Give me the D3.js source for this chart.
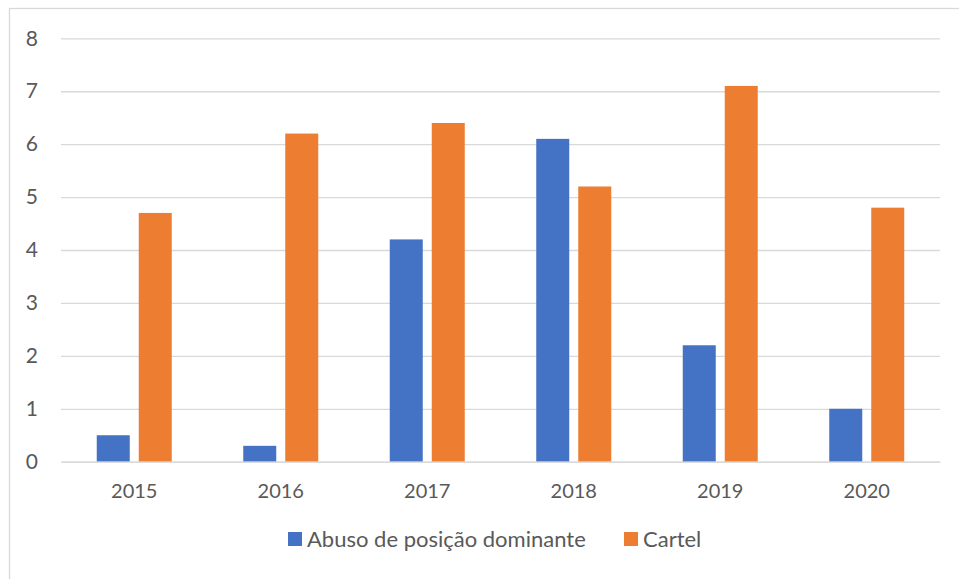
<!DOCTYPE html>
<html><head><meta charset="utf-8">
<script src="https://cdn.jsdelivr.net/npm/d3@7"></script>
<style>html,body{margin:0;padding:0;background:#fff;}svg{display:block;}</style>
</head><body><svg id="c" width="959" height="579"></svg>
<script>
const categories = ["2015","2016","2017","2018","2019","2020"];
const seriesNames = ["Abuso de posição dominante","Cartel"];
const abuso = [0.5,0.3,4.2,6.1,2.2,1.0];
const cartel = [4.7,6.2,6.4,5.2,7.1,4.8];
const yTicks = [0,1,2,3,4,5,6,7,8];
const colors = ["#4472C4","#ED7D31"];

(function(){
const svg = d3.select("#c");
const font = "Lato, 'Open Sans', sans-serif";
svg.append("rect").attr("x",9.5).attr("y",8.5).attr("width",1000).attr("height",600)
  .attr("fill","#fff").attr("stroke","#D9D9D9").attr("stroke-width",1.3);

const pLeft=61, pRight=940, pTop=38.3, pBottom=461.7;
const x0 = d3.scaleBand().domain(categories).range([pLeft,pRight]).padding(0);
const bw = x0.bandwidth();
const gw = 75;
const x1 = d3.scaleBand().domain(seriesNames).range([(bw-gw)/2,(bw+gw)/2]).paddingInner(0.2143).paddingOuter(0);
const y = d3.scaleLinear().domain([0,8]).range([pBottom,pTop]);

const yAxis = d3.axisLeft(y).tickValues(yTicks).tickSize(-(pRight-pLeft)).tickPadding(23).tickFormat(d3.format("d"));
const gy = svg.append("g").attr("transform",`translate(${pLeft},0)`).call(yAxis);
gy.select(".domain").remove();
gy.selectAll(".tick line").attr("stroke","#D9D9D9").attr("stroke-width",1.3);
gy.selectAll(".tick text").attr("fill","#595959").style("font-family",font).style("font-size","21px");

const data = categories.map((c,i)=>({c, vals:[abuso[i],cartel[i]]}));
const g = svg.append("g");
data.forEach(d=>{
  d.vals.forEach((v,j)=>{
    g.append("rect")
      .attr("x", x0(d.c)+x1(seriesNames[j]))
      .attr("y", y(v))
      .attr("width", x1.bandwidth())
      .attr("height", y(0)-y(v))
      .attr("fill", colors[j]);
  });
});

const xAxis = d3.axisBottom(x0).tickSize(0).tickPadding(22);
const gx = svg.append("g").attr("transform",`translate(0,${pBottom})`).call(xAxis);
gx.select(".domain").attr("stroke","#D9D9D9").attr("stroke-width",1.3);
gx.selectAll(".tick text").attr("fill","#595959").style("font-family",font).style("font-size","20px");

const legendItems = [{name:seriesNames[0], x:288},{name:seriesNames[1], x:624}];
legendItems.forEach((l,i)=>{
  svg.append("rect").attr("x",l.x).attr("y",532).attr("width",14).attr("height",14).attr("fill",colors[i]);
  svg.append("text").attr("x",l.x+19).attr("y",547).attr("fill","#595959")
    .style("font-family",font).style("font-size","22px").text(l.name);
});
})();
</script></body></html>
